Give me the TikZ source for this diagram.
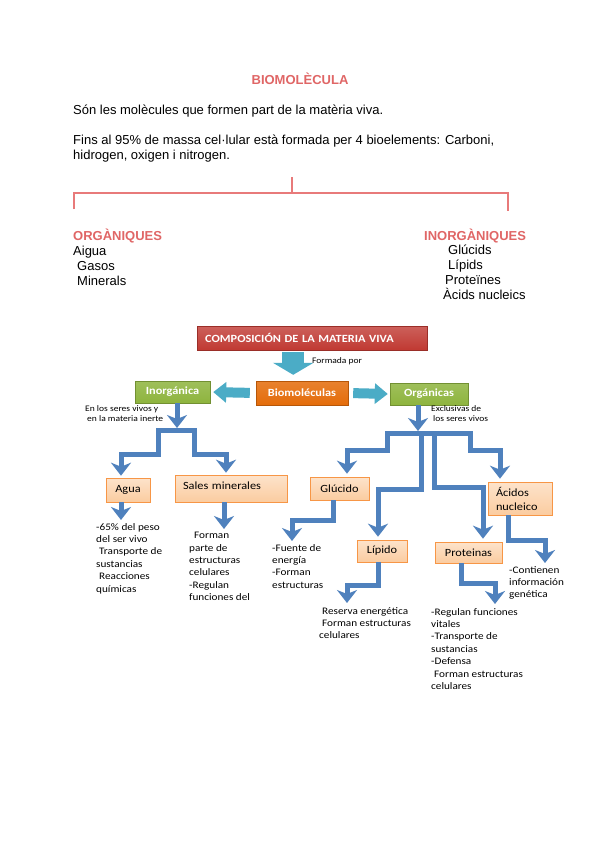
\documentclass[tikz,border=0pt]{standalone}
\usepackage{fontspec}
\setmainfont{Liberation Sans}
\newfontfamily\diagfont[FakeStretch=1.12]{Carlito}
\usetikzlibrary{positioning,arrows.meta,calc}

\definecolor{titlered}{RGB}{224,102,102}
\definecolor{bracketred}{RGB}{232,122,122}
\definecolor{boxred}{RGB}{192,57,50}
\definecolor{boxorange}{RGB}{228,108,10}
\definecolor{boxgreen}{RGB}{142,180,62}
\definecolor{aqua}{RGB}{75,172,198}
\definecolor{arrowblue}{RGB}{79,129,189}
\definecolor{paleorange}{RGB}{251,204,160}
\definecolor{edgeorange}{RGB}{247,150,70}

\begin{document}
\begin{tikzpicture}[x=1pt,y=-1pt,
  bodytext/.style={inner sep=0pt,font=\fontsize{13}{15}\selectfont},
  heading/.style={inner sep=0pt,text=titlered,font=\bfseries\fontsize{13}{15}\selectfont},
  bracket/.style={draw=bracketred,line width=2.2pt},
  headbox/.style={inner sep=0pt,minimum height=24pt,text=white,font=\diagfont\bfseries\fontsize{11}{13}\selectfont},
  redbox/.style={headbox,draw=boxred!80!black,line width=0.4pt,top color=boxred!80!white,bottom color=boxred},
  orangebox/.style={headbox,draw=boxorange!80!black,line width=0.4pt,top color=boxorange!85!white,bottom color=boxorange},
  greenbox/.style={headbox,draw=boxgreen!80!black,line width=0.4pt,top color=boxgreen!85!white,bottom color=boxgreen},
  lbox/.style={draw=edgeorange,line width=0.6pt,top color=paleorange!55!white,bottom color=paleorange,inner sep=0pt,font=\diagfont\fontsize{11}{14}\selectfont},
  notes/.style={anchor=north west,align=left,inner sep=0pt,font=\diagfont\fontsize{10}{12.4}\selectfont},
  tiny/.style={inner sep=0pt,font=\diagfont\fontsize{8.5}{10.5}\selectfont},
  bluearrow/.style={draw=arrowblue,line width=5pt,line join=miter,-{Stealth[width=20pt,length=13pt,inset=4pt]}},
  aquaarrow/.style={draw=aqua,-{Triangle[width=20pt,length=13pt]}},
]
\fill[white] (0,0) rectangle (600,848);
\useasboundingbox (0,0) rectangle (600,848);

% Text
\node[heading] (title) at (300,79) {BIOMOLÈCULA};
\node[bodytext,anchor=base west] (def) at (73,115) {Són les molècules que formen part de la matèria viva.};
\node[bodytext,anchor=north west,align=left] (fins) at (73,134.5) {Fins al 95\% de massa cel·lular està formada per 4 bioelements: Carboni,\\hidrogen, oxigen i nitrogen.};

% Bracket
\draw[bracket] (292,177) -- (292,193);
\draw[bracket] (74,209) |- (508,193) -- (508,211);

% Lists
\node[heading,anchor=base west] (orgh) at (73,240) {ORGÀNIQUES};
\node[bodytext,anchor=north west,align=left] (orglist) at (73,245.7) {Aigua\\\hspace*{4pt}Gasos\\\hspace*{4pt}Minerals};
\node[heading,anchor=base west] (inorgh) at (424,240) {INORGÀNIQUES};
\node[bodytext,anchor=north west,align=left] (inorglist) at (443,245.2) {\hspace*{5pt}Glúcids\\\hspace*{5pt}Lípids\\\hspace*{2pt}Proteïnes\\Àcids nucleics};

% Concept map boxes
\node[redbox,minimum width=230pt,anchor=west,text width=214pt,align=left,inner xsep=8pt] (comp) at (197,338) {COMPOSICIÓN DE LA MATERIA VIVA};
\node[orangebox,minimum width=92pt] (bio) at (302,393) {Biomoléculas};
\node[greenbox,minimum width=75pt,minimum height=22pt] (inorg) at (172.5,392) {Inorgánica};
\node[greenbox,minimum width=78pt,minimum height=22pt] (org) at (429,394) {Orgánicas};

\node[lbox,minimum width=44pt,minimum height=24pt] (agua) at (128,490) {Agua};
\node[lbox,minimum width=112pt,minimum height=27pt,text width=96pt,inner xsep=8pt,align=left,text height=11pt,text depth=10pt] (sales) at (231,488.5) {Sales minerales};
\node[lbox,minimum width=59pt,minimum height=23pt] (gluc) at (339.5,488.5) {Glúcido};
\node[lbox,minimum width=64pt,minimum height=33pt,text width=48pt,inner xsep=8pt,align=left] (acid) at (520,498.5) {Ácidos\\nucleico};
\node[lbox,minimum width=50pt,minimum height=22pt] (lip) at (382,551) {Lípido};
\node[lbox,minimum width=67pt,minimum height=21pt] (prot) at (468.5,552.5) {Proteinas};

% Small labels
\node[tiny,anchor=west] (formada) at (312,361) {Formada por};
\node[tiny,anchor=north west,align=left] (inorgnote) at (85,405) {En los seres vivos y\\\hspace*{2pt}en la materia inerte};
\node[tiny,anchor=north west,align=left] (orgnote) at (431,405) {Exclusivas de\\\hspace*{2pt}los seres vivos};

% Descriptions
\node[notes] (aguatxt) at (96,523) {-65\% del peso\\del ser vivo\\\hspace*{3pt}Transporte de\\sustancias\\\hspace*{3pt}Reacciones\\químicas};
\node[notes] (salestxt) at (189,532) {\hspace*{5pt}Forman\\parte de\\estructuras\\celulares\\-Regulan\\funciones del};
\node[notes] (gluctxt) at (272,544) {-Fuente de\\energía\\-Forman\\estructuras};
\node[notes] (liptxt) at (319,607) {\hspace*{3pt}Reserva energética\\\hspace*{3pt}Forman estructuras\\celulares};
\node[notes] (prottxt) at (431,608) {-Regulan funciones\\vitales\\-Transporte de\\sustancias\\-Defensa\\\hspace*{3pt}Forman estructuras\\celulares};
\node[notes] (acidtxt) at (509,566) {-Contienen\\información\\genética};

% Block arrows
\draw[aquaarrow,line width=22pt,-{Triangle[width=40pt,length=12pt]},shorten <=2pt,shorten >=6pt] ([xshift=-19pt]comp.south) -- ([xshift=-19pt]comp.south |- bio.north);
\draw[aquaarrow,line width=10pt,shorten <=6pt,shorten >=3pt] (bio.west) -- (inorg.east);
\draw[aquaarrow,line width=10pt,shorten <=5pt,shorten >=2pt] (bio.east) -- (org.west);

% Inorganic branch
\coordinate (isplit) at (177,428);
\coordinate (ibl) at (158,430);
\coordinate (ibr) at (194,430);
\draw[bluearrow] ([xshift=4.5pt]inorg.south) -- (isplit);
\draw[bluearrow,shorten >=2pt] (ibr) -- (ibl) |- ([xshift=-7pt,yshift=23pt]agua.north) -- ([xshift=-7pt]agua.north);
\draw[bluearrow,shorten >=2pt] (ibl) -- (ibr) |- ([xshift=-5pt,yshift=20pt]sales.north) -- ([xshift=-5pt]sales.north);
\draw[bluearrow,shorten >=3pt] ([xshift=-7pt]agua.south) -- ([xshift=-7pt]agua.south |- aguatxt.north);
\draw[bluearrow,shorten >=3pt] ([xshift=-7pt]sales.south) -- ([xshift=-7pt]sales.south |- salestxt.north);

% Organic branch
\coordinate (osplit) at (418,431);
\coordinate (obl) at (387,433);
\coordinate (obr) at (470,433);
\coordinate (omidl) at (421,433);
\coordinate (omidr) at (434,433);
\draw[bluearrow] ([xshift=-11pt]org.south) -- (osplit);
\draw[bluearrow,shorten >=3pt] (obr) -- (obl) |- ([xshift=7.5pt,yshift=26pt]gluc.north) -- ([xshift=7.5pt]gluc.north);
\draw[bluearrow,shorten >=3pt] (obl) -- (obr) |- ([xshift=-20pt,yshift=31pt]acid.north) -- ([xshift=-20pt]acid.north);
\draw[bluearrow,shorten >=3pt] (omidl) |- ([xshift=-4pt,yshift=50pt]lip.north) -- ([xshift=-4pt]lip.north);
\draw[bluearrow,shorten >=3pt] (omidr) |- ([xshift=14.5pt,yshift=54pt]prot.north) -- ([xshift=14.5pt]prot.north);

\draw[bluearrow,shorten >=3pt] ([xshift=-6.5pt]gluc.south) |- ([xshift=20pt,yshift=24pt]gluctxt.north west) -- ([xshift=20pt]gluctxt.north west);
\draw[bluearrow,shorten >=4pt] ([xshift=-4pt]lip.south) |- ([xshift=28pt,yshift=22pt]liptxt.north west) -- ([xshift=28pt]liptxt.north west);
\draw[bluearrow,shorten >=4pt] ([xshift=-7pt]prot.south) |- ([xshift=64pt,yshift=25pt]prottxt.north west) -- ([xshift=64pt]prottxt.north west);
\draw[bluearrow,shorten >=3pt] ([xshift=-12pt]acid.south) |- ([xshift=36pt,yshift=26pt]acidtxt.north west) -- ([xshift=36pt]acidtxt.north west);
\end{tikzpicture}
\end{document}
